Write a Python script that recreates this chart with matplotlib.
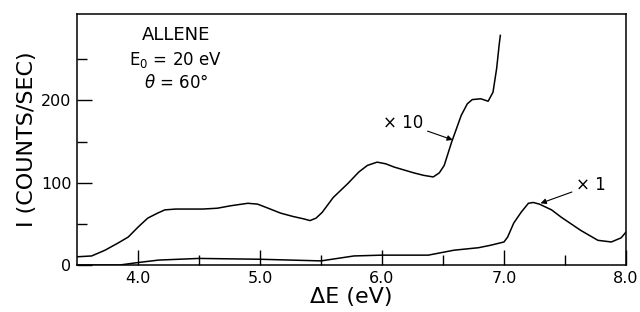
import matplotlib
matplotlib.use("Agg")
import matplotlib.pyplot as plt
from matplotlib.ticker import FixedLocator

# Energy loss spectrum of allene
# upper trace (x10 gain)
x10_ev = [3.50, 3.62, 3.73, 3.84, 3.92, 4.00, 4.08, 4.16, 4.22, 4.31, 4.53,
          4.65, 4.76, 4.90, 4.98, 5.05, 5.17, 5.27, 5.36, 5.41, 5.46, 5.51,
          5.60, 5.72, 5.81, 5.88, 5.96, 6.03, 6.10, 6.26, 6.34, 6.42, 6.47,
          6.51, 6.57, 6.65, 6.70, 6.74, 6.81, 6.87, 6.91, 6.94, 6.96, 6.97]
x10_counts = [10, 11, 18, 27, 34, 46, 57, 63, 67, 68, 68,
              69, 72, 75, 74, 70, 63, 59, 56, 54, 57, 64,
              82, 99, 113, 121, 125, 123, 119, 112, 109, 107, 112,
              121, 149, 182, 196, 201, 202, 199, 210, 239, 267, 279]

# lower trace (x1 gain)
x1_ev = [3.50, 3.70, 3.85, 4.00, 4.17, 4.50, 5.00, 5.50, 5.77, 6.00, 6.38,
         6.59, 6.79, 6.89, 7.00, 7.03, 7.08, 7.14, 7.20, 7.24, 7.29, 7.39,
         7.47, 7.63, 7.77, 7.88, 7.96, 8.00]
x1_counts = [0, 0, 0, 3, 6, 8, 7, 5, 11, 12, 12,
             18, 21, 24, 28, 34, 51, 64, 75, 76, 74, 67,
             58, 42, 30, 28, 33, 40]

x_major = [4.0, 5.0, 6.0, 7.0, 8.0]
x_minor = [4.5, 5.5, 6.5, 7.5]
y_major = [0, 100, 200]
y_minor = [50, 150, 250]

fig = plt.figure(figsize=(6.4, 3.12), dpi=100)
ax = fig.add_axes([0.1203, 0.1506, 0.8578, 0.8045])

ax.plot(x10_ev, x10_counts, color="black", lw=1.1)
ax.plot(x1_ev, x1_counts, color="black", lw=1.1)

ax.set_xlim(3.5, 8.0)
ax.set_ylim(0, 305)

ax.xaxis.set_major_locator(FixedLocator(x_major))
ax.xaxis.set_minor_locator(FixedLocator(x_minor))
ax.yaxis.set_major_locator(FixedLocator(y_major))
ax.yaxis.set_minor_locator(FixedLocator(y_minor))
ax.set_xticklabels([f"{v:.1f}" for v in x_major])
ax.set_yticklabels([str(v) for v in y_major])

ax.tick_params(which="both", direction="in", width=1.0, labelsize=11.5,
               top=False, right=False)
ax.tick_params(which="major", length=11, pad=4)
ax.tick_params(which="minor", length=7)
for s in ax.spines.values():
    s.set_linewidth(1.1)

ax.set_xlabel("ΔE (eV)", fontsize=16, labelpad=1)
ax.set_ylabel("I (COUNTS/SEC)", fontsize=16, labelpad=3)

# header text
ax.text(4.31, 280, "ALLENE", ha="center", va="center", fontsize=13)
ax.text(4.31, 249, "E$_0$ = 20 eV", ha="center", va="center", fontsize=12)
ax.text(4.31, 221, r"$\theta$ = 60°", ha="center", va="center", fontsize=12)

# gain labels with arrows
ax.annotate("× 10", xy=(6.58, 152), xytext=(6.34, 173),
            ha="right", va="center", fontsize=12,
            arrowprops=dict(arrowstyle="-|>", color="black", lw=0.8,
                            mutation_scale=8, shrinkA=1, shrinkB=0))
ax.annotate("× 1", xy=(7.30, 75), xytext=(7.59, 97),
            ha="left", va="center", fontsize=12,
            arrowprops=dict(arrowstyle="-|>", color="black", lw=0.8,
                            mutation_scale=8, shrinkA=1, shrinkB=0))

fig.savefig("out.png", dpi=100)
